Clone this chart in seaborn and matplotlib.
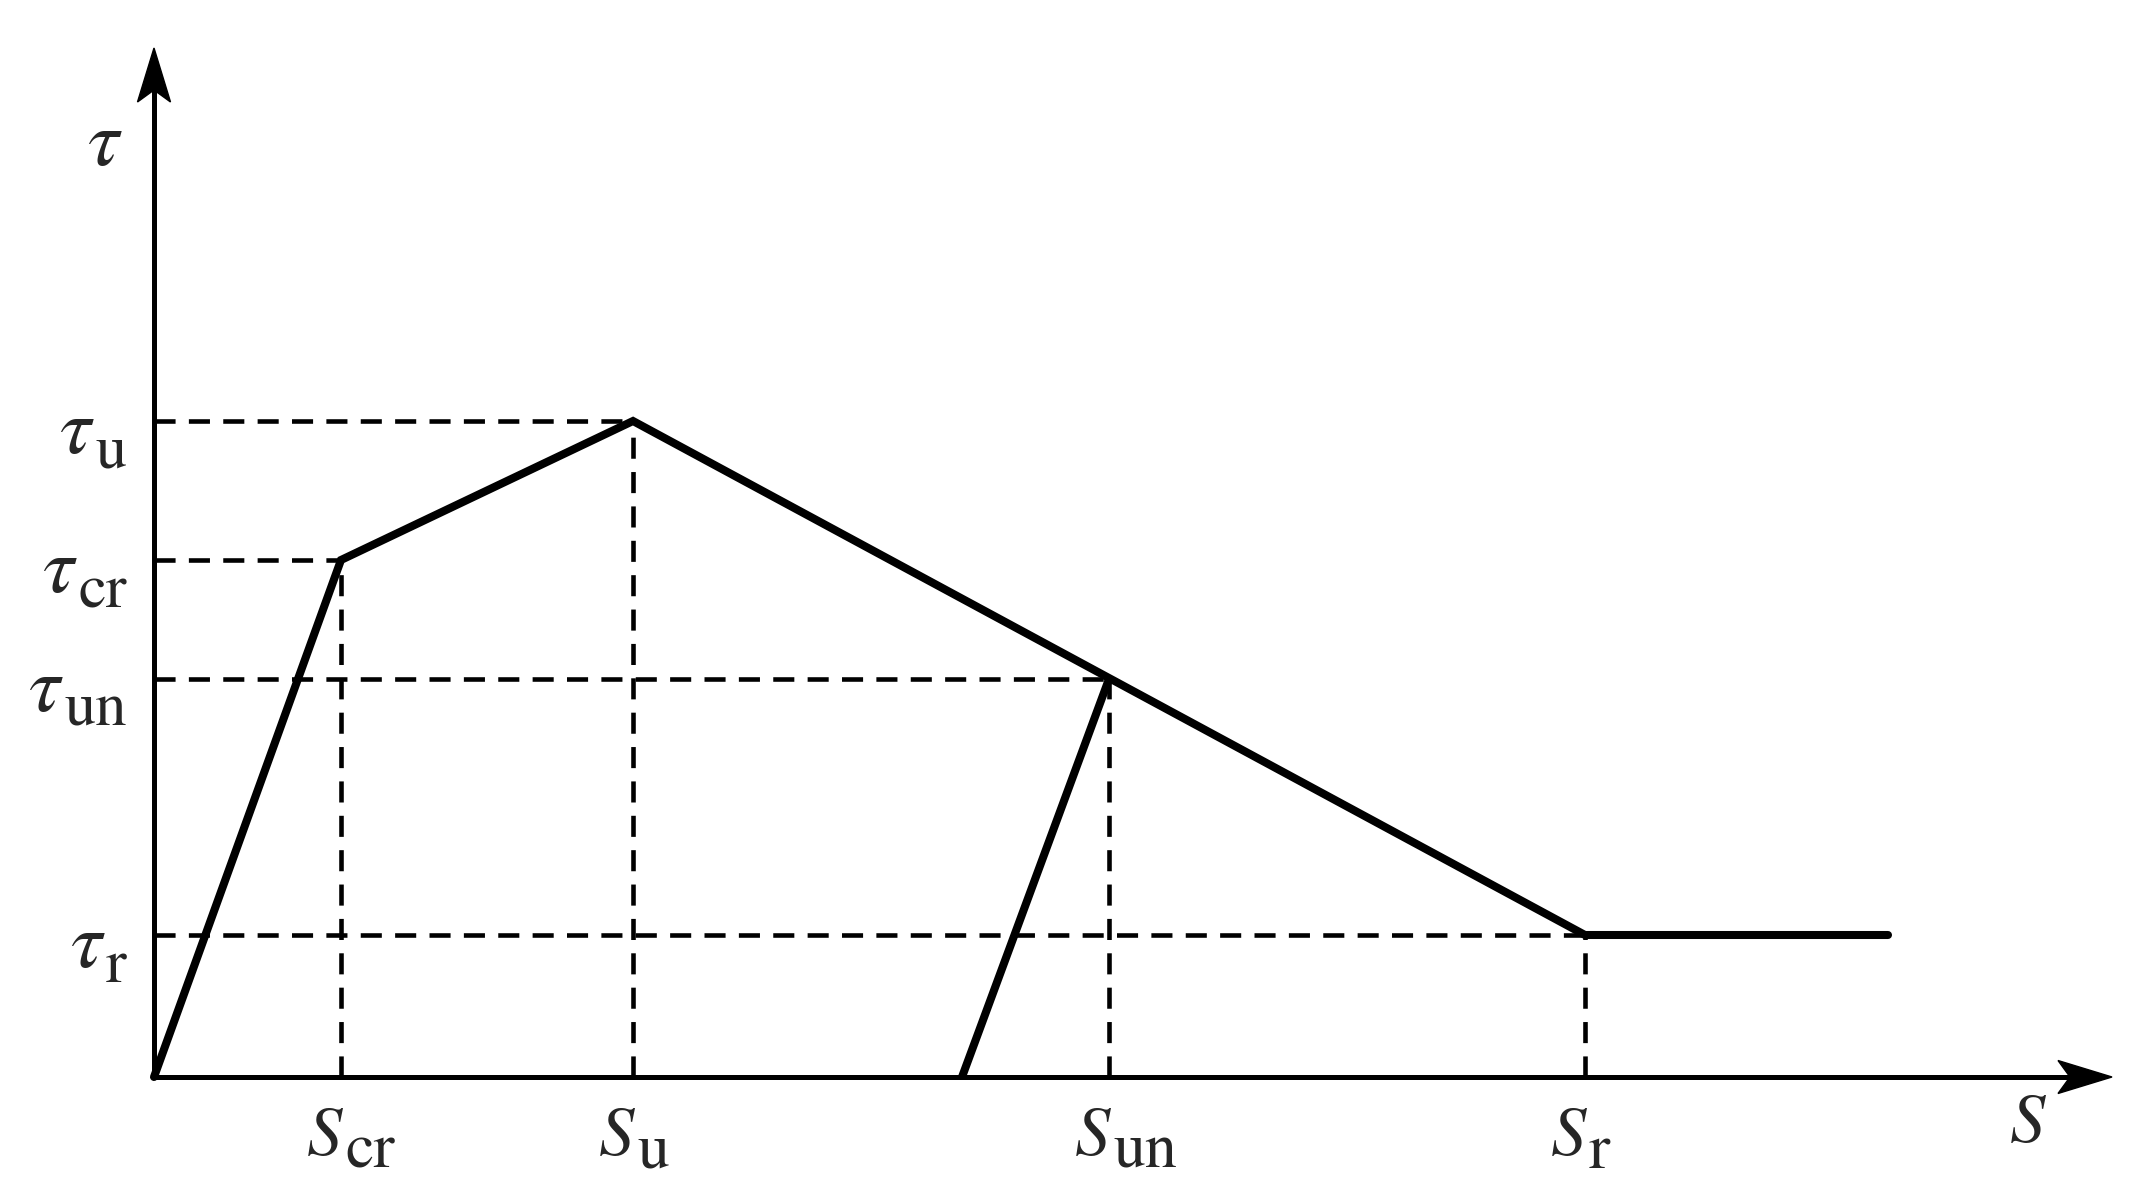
import matplotlib
matplotlib.use("Agg")
import matplotlib.pyplot as plt
from matplotlib.patches import Polygon
import seaborn as sns
import pandas as pd

# Valores característicos (unidades arbitrárias do esquema)
pontos = ["cr", "u", "un", "r"]
slip_pontos = [1.87, 4.79, 9.55, 14.31]
tau_pontos = [5.17, 6.56, 3.98, 1.42]

# Curva envoltória e ramo de descarga
envoltoria_s = [0.0, 1.87, 4.79, 14.31, 17.34]
envoltoria_tau = [0.0, 5.17, 6.56, 1.42, 1.42]
descarga_s = [8.08, 9.55]
descarga_tau = [0.0, 3.98]

# Extensão dos eixos (até a ponta das setas)
s_max = 19.58
tau_max = 10.29

sns.set_style("white")
plt.rcParams["mathtext.fontset"] = "stix"
plt.rcParams["font.family"] = ["STIXGeneral", "Liberation Serif", "DejaVu Serif"]

fig = plt.figure(figsize=(21.44, 12), dpi=100)
# 1 unidade de dado = 100 px nas duas direções
ax = fig.add_axes([154 / 2144, 123 / 1200, 1990 / 2144, 1077 / 1200])
ax.set_xlim(0, 19.90)
ax.set_ylim(0, 10.77)
ax.axis("off")

# Linhas tracejadas de referência
for s, t in zip(slip_pontos, tau_pontos):
    ax.plot([0, s], [t, t], color="black", lw=3.3, dashes=(4.6, 2.9), zorder=1)
    ax.plot([s, s], [0, t], color="black", lw=3.3, dashes=(4.6, 2.9), zorder=1)

env = pd.DataFrame({"s": envoltoria_s, "tau": envoltoria_tau})
desc = pd.DataFrame({"s": descarga_s, "tau": descarga_tau})
sns.lineplot(data=env, x="s", y="tau", sort=False, estimator=None, color="black",
             lw=5.8, ax=ax, zorder=3, solid_capstyle="round", solid_joinstyle="miter")
sns.lineplot(data=desc, x="s", y="tau", sort=False, estimator=None, color="black",
             lw=5.8, ax=ax, zorder=3, solid_capstyle="butt")

# Eixos com setas (ponta em forma de flecha com entalhe)
ax.plot([0, s_max - 0.3], [0, 0], color="black", lw=3.6, solid_capstyle="butt", zorder=2)
ax.plot([0, 0], [0, tau_max - 0.3], color="black", lw=3.6, solid_capstyle="butt", zorder=2)
comp, larg, entalhe = 0.54, 0.165, 0.42
ax.add_patch(Polygon([(s_max, 0), (s_max - comp, larg), (s_max - entalhe, 0),
                      (s_max - comp, -larg)], closed=True, color="black",
                     clip_on=False, zorder=4))
ax.add_patch(Polygon([(0, tau_max), (larg, tau_max - comp), (0, tau_max - entalhe),
                      (-larg, tau_max - comp)], closed=True, color="black",
                     clip_on=False, zorder=4))

# as linhas sobre os eixos não podem ser cortadas pela borda
for linha in ax.lines:
    linha.set_clip_on(False)

# Rótulos do eixo S: símbolo em itálico e índice em tamanho quase igual
for p, s in zip(pontos, slip_pontos):
    ax.text(s + 0.03, -0.78, r"$S$", ha="right", va="baseline", fontsize=51)
    ax.text(s + 0.04, -0.91, p, ha="left", va="baseline", fontsize=46)

# Rótulos do eixo tau: índice alinhado à direita, tau à sua esquerda
fig.canvas.draw()
for p, t in zip(pontos, tau_pontos):
    sub = ax.text(-0.27, t - 0.47, p, ha="right", va="baseline", fontsize=45)
    ax.annotate(r"$\tau$", xy=(0, 0), xycoords=sub, xytext=(-1, 12),
                textcoords="offset pixels", ha="right", va="bottom", fontsize=57)

ax.text(-0.49, 9.30, r"$\tau$", ha="center", va="center", fontsize=57)
ax.text(18.74, -0.48, r"$S$", ha="center", va="center", fontsize=51)

fig.savefig("out.png", dpi=100, facecolor="white")
